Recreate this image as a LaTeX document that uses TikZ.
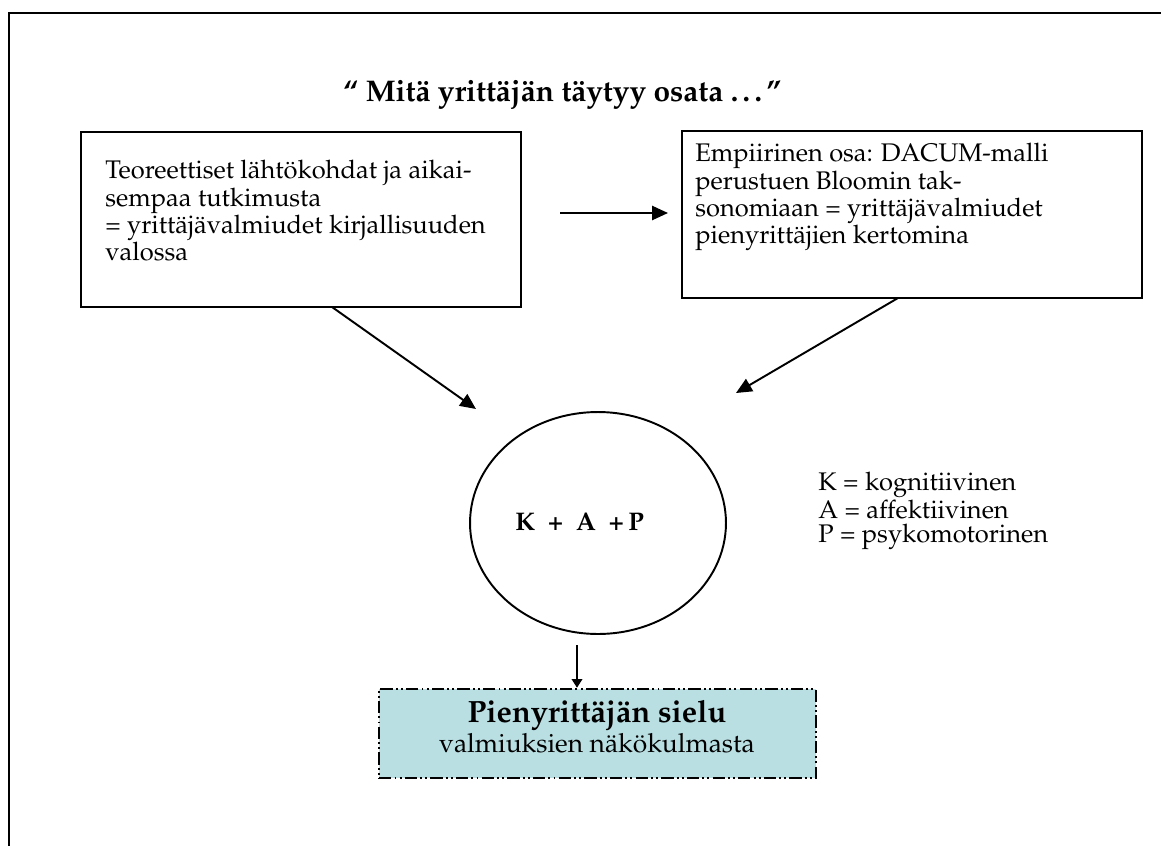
\documentclass[tikz,border=0pt]{standalone}
\usepackage[T1]{fontenc}
\usepackage{mathpazo}
\usetikzlibrary{arrows.meta,shapes.geometric}
\definecolor{soulfill}{RGB}{185,223,227}

\begin{document}
\begin{tikzpicture}[x=0.02cm,y=-0.02cm,
  frameline/.style={line width=1.2pt},
  textbox/.style={draw,line width=1.1pt,inner sep=0pt},
  bodytext/.style={inner sep=0pt,anchor=north west,align=left,
    font=\fontsize{14.5}{14.4}\selectfont},
  conn/.style={line width=1.1pt,-{Triangle[length=9pt,width=8pt]}},
  soulbox/.style={draw,line width=1.4pt,fill=soulfill,inner sep=0pt,
    dash pattern=on 7pt off 1.8pt on 1.1pt off 1.8pt on 1.1pt off 1.8pt,
    minimum width=8.74cm,minimum height=1.78cm}]
\useasboundingbox (0,0) rectangle (1161,846);

% outer frame: only the top and left edges fall inside the page
\draw[frameline] (9,846) -- (9,13) -- (1161,13);

% title
\node[inner sep=0pt,anchor=base west,font=\fontsize{17}{20}\selectfont\bfseries]
  (title) at (343,101) {`` Mit\"a yritt\"aj\"an t\"aytyy osata \ldots''};

% the two source boxes
\node[textbox,minimum width=8.8cm,minimum height=3.5cm] (theory) at (301,219.5) {};
\node[bodytext] (theorytxt) at (105,160)
  {Teoreettiset l\"aht\"okohdat ja aikai-\\sempaa tutkimusta\\= yritt\"aj\"avalmiudet kirjallisuuden\\valossa};

\node[textbox,minimum width=9.2cm,minimum height=3.34cm] (empiric) at (912,214.5) {};
\node[bodytext] (empirictxt) at (695,143)
  {Empiirinen osa: DACUM-malli\\perustuen Bloomin tak-\\sonomiaan = yritt\"aj\"avalmiudet\\pienyritt\"ajien kertomina};

% the three domains
\node[ellipse,draw,line width=1.1pt,minimum width=5.12cm,minimum height=4.44cm,inner sep=0pt]
  (kap) at (598,523) {};
\node[inner sep=0pt,anchor=base west,font=\fontsize{14.5}{16}\selectfont\bfseries]
  (kaptxt) at (515,530) {K\ \ +\ \ A\ \ +\,P};

\node[inner sep=0pt,anchor=north west,align=left,font=\fontsize{14.5}{13.8}\selectfont]
  (legend) at (818,472) {K = kognitiivinen\\A = affektiivinen\\P = psykomotorinen};

% result box
\node[soulbox] (soul) at (597.5,733.5) {};
\node[inner sep=0pt,anchor=base,font=\fontsize{17.5}{20}\selectfont\bfseries]
  (soultitle) at (597,722) {Pienyritt\"aj\"an sielu};
\node[inner sep=0pt,anchor=base,font=\fontsize{15}{17}\selectfont]
  (soulsub) at (597,752) {valmiuksien n\"ak\"okulmasta};

% connectors
\coordinate (midstart) at (560,213);
\coordinate (midend) at (668,213);
\draw[conn] (midstart) -- (midend);

\coordinate (theoryout) at (332,307);
\coordinate (kapinleft) at (476,409);
\draw[conn] (theoryout) -- (kapinleft);

\coordinate (empiricout) at (898,298);
\coordinate (kapinright) at (736,393);
\draw[conn] (empiricout) -- (kapinright);

\coordinate (kapout) at (577,645);
\draw[line width=1.1pt,-{Triangle[length=5pt,width=6pt]}] (kapout) -- (kapout |- soul.north);
\end{tikzpicture}
\end{document}
